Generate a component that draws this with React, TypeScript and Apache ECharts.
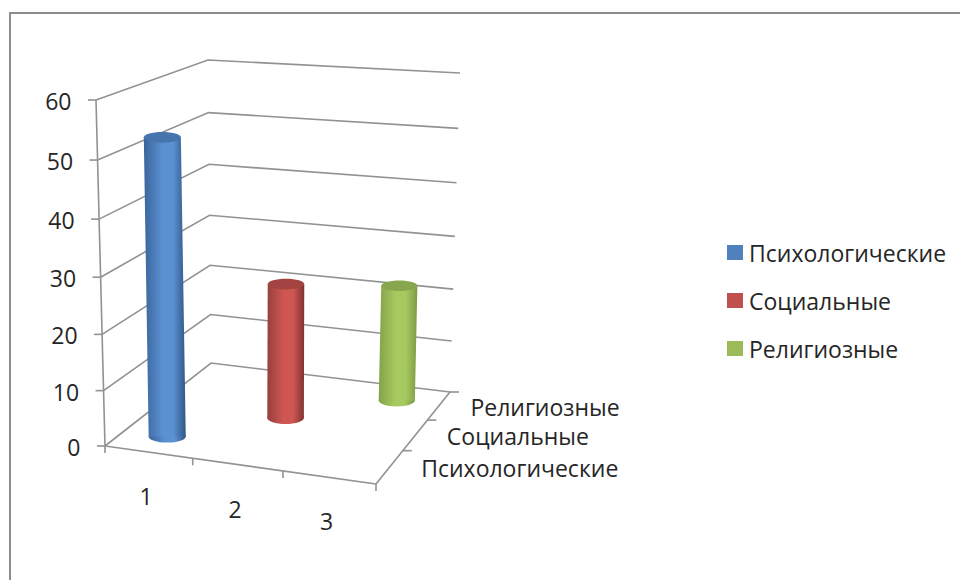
import React, { useEffect, useRef } from "react";
import * as echarts from "echarts";

// ---- data ----
const categories = ["1", "2", "3"];
const seriesNames = ["Психологические", "Социальные", "Религиозные"];
const valueTicks = [0, 10, 20, 30, 40, 50, 60];
const psychological = [53];
const social = [25];
const religious = [22];
const barCategoryIndex = [0, 1, 2];
const barDepthIndex = [0, 1, 2];

// ---- look ----
const FONT = "Open Sans";
const TEXT = "#262626";
const LINE = "#929292";
const barColors = [
  { flat: "#4f81bd", top: "#4675ad", edgeL: "#3a659b", mid: "#5b90d2", edgeR: "#2f5785" },
  { flat: "#c0504d", top: "#a44442", edgeL: "#97403d", mid: "#cf5753", edgeR: "#7f3331" },
  { flat: "#9bbb59", top: "#88a64d", edgeL: "#84a24a", mid: "#a6ca5f", edgeR: "#7d9a45" },
];

// ---- hidden cartesian scale; its pixels are mapped into the 3D box ----
const GL = 100, GT = 60, GW = 300, GH = 400;
const V_MAX = 60, C_MAX = 3, D_MAX = 3;
type P = [number, number];
const FL0: P = [105, 446], FR0: P = [376, 484], BR0: P = [450, 392], BL0: P = [211, 363];
const FL1: P = [96, 100], FR1: P = [382, 122], BR1: P = [460, 73], BL1: P = [208, 60];
const PERSP_V = 1.05, PERSP_U = 1.045, PERSP_D = 0.88;

const mix = (a: P, b: P, t: number): P => [a[0] + (b[0] - a[0]) * t, a[1] + (b[1] - a[1]) * t];
const warp = (t: number, k: number) => t / (t + k * (1 - t));
const quad = (fl: P, fr: P, br: P, bl: P, u: number, d: number): P =>
  mix(mix(fl, fr, u), mix(bl, br, u), d);

function project(api: any, cat: number, depth: number, value: number): P {
  const c = api.coord([cat, value]);
  const u = warp((c[0] - GL) / GW, PERSP_U);
  const x = (GT + GH - c[1]) / GH;
  const d = warp(depth / D_MAX, PERSP_D);
  const f = warp(x, PERSP_V);
  return mix(quad(FL0, FR0, BR0, BL0, u, d), quad(FL1, FR1, BR1, BL1, u, d), f);
}

const stroke = { stroke: LINE, lineWidth: 1.6, fill: "none" };
const seg = (a: P, b: P) => ({
  type: "line",
  shape: { x1: a[0], y1: a[1], x2: b[0], y2: b[1] },
  style: { stroke: LINE, lineWidth: 1.6 },
});
const label = (text: string, x: number, y: number, align: string, size = 23) => ({
  type: "text",
  style: { text, x, y, align, verticalAlign: "middle", fill: TEXT, fontFamily: FONT, fontSize: size },
});

function renderValueTick(_: any, api: any) {
  const v = api.value(0);
  const fl = project(api, 0, 0, v);
  const bl = project(api, 0, D_MAX, v);
  const br = project(api, C_MAX, D_MAX, v);
  return {
    type: "group",
    children: [
      { type: "polyline", shape: { points: [fl, bl, br] }, style: stroke },
      seg(fl, [fl[0] - 8, fl[1]]),
      label(String(v), fl[0] - 24.5, fl[1] + 1, "right"),
    ],
  };
}

function renderAxisFrame(_: any, api: any) {
  const fl = project(api, 0, 0, 0);
  const top = project(api, 0, 0, V_MAX);
  const fr = project(api, C_MAX, 0, 0);
  const br = project(api, C_MAX, D_MAX, 0);
  return {
    type: "group",
    children: [
      seg(fl, top),
      seg(fl, [fl[0], fl[1] + 7]),
      seg(fl, fr),
      seg(fr, br),
      seg(fr, [fr[0], fr[1] + 7]),
      seg(br, [br[0] + 9, br[1]]),
    ],
  };
}

function renderCategory(_: any, api: any) {
  const i = api.value(0);
  const end = project(api, i + 1, 0, 0);
  const mid = project(api, i + 0.5, 0, 0);
  const children: any[] = [label(categories[i], mid[0] - 2.5, mid[1] + 44, "center")];
  if (i < categories.length - 1) children.push(seg(end, [end[0], end[1] + 7]));
  return { type: "group", children };
}

function renderDepth(_: any, api: any) {
  const i = api.value(0);
  const end = project(api, C_MAX, i + 1, 0);
  const mid = project(api, C_MAX, i + 0.5, 0);
  const children: any[] = [label(seriesNames[i], mid[0] + 31.5, mid[1] + 1, "left")];
  if (i < seriesNames.length - 1) children.push(seg(end, [end[0] + 9, end[1]]));
  return { type: "group", children };
}

function renderBar(colorIndex: number) {
  return (_: any, api: any) => {
    const cat = api.value(0);
    const value = api.value(1);
    const depth = api.value(2);
    const c = barColors[colorIndex];
    const halfU = 0.216;
    const b = project(api, cat, depth, 0);
    const t = project(api, cat, depth, value);
    const bl = project(api, cat - halfU, depth, 0);
    const br = project(api, cat + halfU, depth, 0);
    const rx = (br[0] - bl[0]) / 2;
    const ryTop = rx * 0.29;
    const ryBottom = rx * 0.33;
    const grad = () =>
      new echarts.graphic.LinearGradient(0, 0, 1, 0, [
        { offset: 0, color: c.edgeL },
        { offset: 0.45, color: c.mid },
        { offset: 0.7, color: c.mid },
        { offset: 1, color: c.edgeR },
      ]);
    return {
      type: "group",
      children: [
        { type: "ellipse", shape: { cx: b[0], cy: b[1], rx, ry: ryBottom }, style: { fill: grad() } },
        {
          type: "polygon",
          shape: {
            points: [
              [t[0] - rx, t[1]],
              [t[0] + rx, t[1]],
              [b[0] + rx, b[1]],
              [b[0] - rx, b[1]],
            ],
          },
          style: { fill: grad() },
        },
        { type: "ellipse", shape: { cx: t[0], cy: t[1], rx, ry: ryTop }, style: { fill: c.top } },
      ],
    };
  };
}

export default function App() {
  const ref = useRef<HTMLDivElement>(null);
  useEffect(() => {
    document.body.style.margin = "0";
    const chart = echarts.init(ref.current!, null, { renderer: "svg" });
    const helper = { type: "custom", silent: true, clip: false, coordinateSystem: "cartesian2d", xAxisIndex: 0, yAxisIndex: 0 };
    const barValues = [psychological, social, religious];
    chart.setOption({
      animation: false,
      backgroundColor: "#ffffff",
      grid: { left: GL, top: GT, width: GW, height: GH, show: false },
      xAxis: { type: "value", min: 0, max: C_MAX, show: false },
      yAxis: { type: "value", min: 0, max: V_MAX, show: false },
      legend: {
        orient: "vertical",
        left: 722,
        top: 236,
        icon: "rect",
        itemWidth: 16,
        itemHeight: 15,
        itemGap: 25,
        data: seriesNames,
        textStyle: { fontFamily: FONT, fontSize: 23, color: TEXT, padding: [0, 0, 0, 1] },
      },
      graphic: [
        {
          type: "rect",
          x: 10,
          y: 13,
          z: -1,
          silent: true,
          shape: { x: 0, y: 0, width: 1200, height: 800 },
          style: { fill: "none", stroke: "#8c8c8c", lineWidth: 2 },
        },
      ],
      series: [
        { ...helper, name: "valueAxis", data: valueTicks.map((v) => [v]), encode: { y: 0 }, renderItem: renderValueTick, z: 1 },
        { ...helper, name: "axisFrame", data: [[0]], encode: { y: 0 }, renderItem: renderAxisFrame, z: 1 },
        { ...helper, name: "categoryAxis", data: categories.map((_, i) => [i]), encode: { x: 0 }, renderItem: renderCategory, z: 1 },
        { ...helper, name: "depthAxis", data: seriesNames.map((_, i) => [i]), encode: { x: 0 }, renderItem: renderDepth, z: 1 },
        ...seriesNames.map((name, i) => ({
          type: "custom",
          name,
          clip: false,
          coordinateSystem: "cartesian2d",
          itemStyle: { color: barColors[i].flat },
          encode: { x: 0, y: 1 },
          data: barValues[i].map((v) => [barCategoryIndex[i] + 0.5, v, barDepthIndex[i] + 0.5]),
          renderItem: renderBar(i),
          z: 2,
        })),
      ],
    });
    return () => chart.dispose();
  }, []);
  return <div ref={ref} style={{ position: "fixed", left: 0, top: 0, width: 960, height: 580 }} />;
}
